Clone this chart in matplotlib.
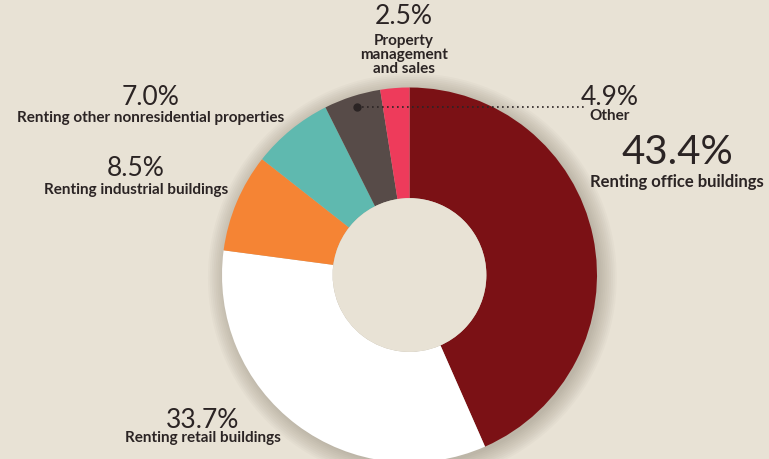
import numpy as np
import matplotlib.pyplot as plt
from matplotlib.patches import Circle

# shares of receipts, clockwise from 12 o'clock
categories = ["Renting office buildings", "Renting retail buildings",
              "Renting industrial buildings",
              "Renting other nonresidential properties", "Other",
              "Property\nmanagement\nand sales"]
shares = [43.4, 33.7, 8.5, 7.0, 4.9, 2.5]
pct_labels = ["43.4%", "33.7%", "8.5%", "7.0%", "4.9%", "2.5%"]
colors = ["#7B1115", "#FFFFFF", "#F58434", "#5FB9AF", "#574B48", "#EE3B5B"]

BG = "#E8E2D5"
W, H = 769, 459
CX, CY, R = 409.5, 275, 187.5

fig = plt.figure(figsize=(W / 100, H / 100), dpi=100, facecolor=BG)
ax = fig.add_axes([0, 0, 1, 1])
ax.set_facecolor(BG)

# soft shadow round the ring
for i in range(10):
    ax.add_patch(Circle((0.015, -0.015), 1.0 + i * 0.01, color="#6b604c",
                        alpha=0.035, lw=0, zorder=1))

wedges, _ = ax.pie(shares, colors=colors, startangle=90, counterclock=False,
                   radius=1, wedgeprops=dict(width=0.59, linewidth=0),
                   center=(0, 0))
for w in wedges:
    w.set_zorder(3)
ax.add_patch(Circle((0, 0), 0.41, color=BG, lw=0, zorder=4))

ax.set_xlim(-CX / R, (W - CX) / R)
ax.set_ylim(-(H - CY) / R, CY / R)
ax.set_aspect("equal")
ax.axis("off")


def fx(x):
    return x / W


def fy(y):
    return 1 - y / H


TXT = "#2b2424"
FAM = ["Lato", "DejaVu Sans"]

# (pct centre x, pct y, pct size, label y, label size)
layout = [
    (677, 152, 29, 182, 12),
    (203, 420, 19, 438, 11),
    (136, 168, 19, 190, 11),
    (151, 97, 19, 118, 11),
    (610, 97, 19, 116, 11),
    (404, 17, 19, 55, 11),
]
for pct, lab, (x, yp, sp, yl, sl) in zip(pct_labels, categories, layout):
    fig.text(fx(x), fy(yp), pct, ha="center", va="center", fontsize=sp,
             color=TXT, family=FAM)
    fig.text(fx(x), fy(yl), lab, ha="center", va="center", fontsize=sl,
             color=TXT, family=FAM, fontweight="bold", linespacing=1.0)

# leader for "Other"
p0 = ((357 - CX) / R, (CY - 107) / R)
p1 = ((585 - CX) / R, (CY - 107) / R)
ax.plot([p0[0], p1[0]], [p0[1], p1[1]], ls=(0, (1, 2)), color=TXT, lw=1.2,
        zorder=5)
ax.plot(p0[0], p0[1], "o", color=TXT, ms=5, zorder=6)

fig.savefig("out.png", dpi=100, facecolor=BG)
